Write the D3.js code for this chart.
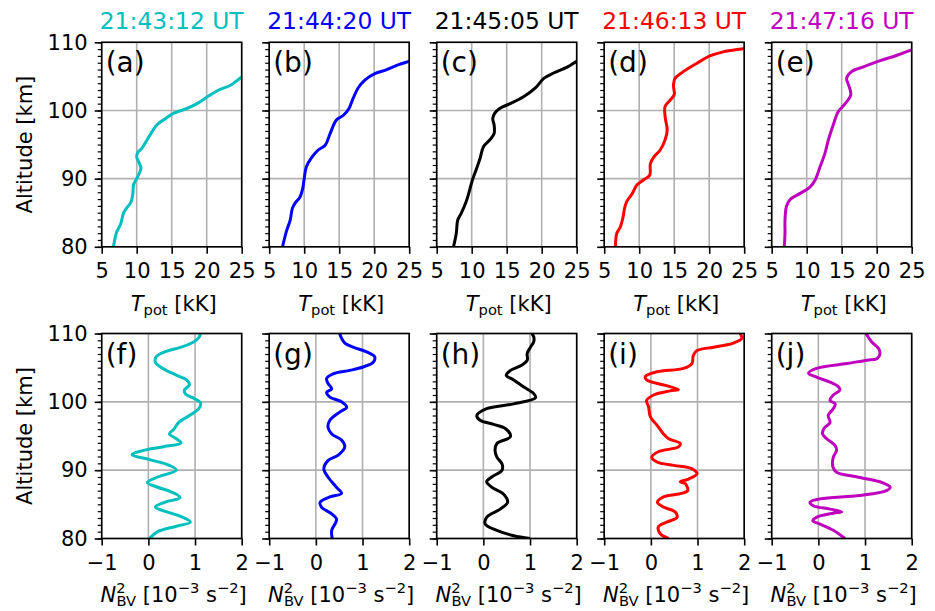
<!DOCTYPE html>
<html><head><meta charset="utf-8">
<script src="https://cdn.jsdelivr.net/npm/d3@7"></script>
<style>body{margin:0;background:#fff}svg{display:block}text{font-family:"DejaVu Sans",sans-serif;fill:#000}</style>
</head><body><svg id="c" width="935" height="611"></svg>
<script>
// ---------- data ----------
const times = ["21:43:12 UT","21:44:20 UT","21:45:05 UT","21:46:13 UT","21:47:16 UT"];
const colors = ["#00bfbf","#0000ff","#000000","#ff0000","#bf00bf"];
const topLetters = ["(a)","(b)","(c)","(d)","(e)"];
const bottomLetters = ["(f)","(g)","(h)","(i)","(j)"];
const altTicks = [80,90,100,110];
const tpotTicks = [5,10,15,20,25];
const n2Ticks = [-1,0,1,2];

// potential temperature profiles [kK]
const altTa = [80,81.2,82.2,83.3,84.9,85.6,86.6,87.8,89.1,90.0,91.5,92.2,93.2,93.9,94.4,95.7,96.9,97.9,98.8,99.6,100.3,101.0,102.0,103.0,103.7,104.9,105.5];
const tpotA = [6.67,6.9,7.15,7.7,8.1,8.5,9.2,9.45,9.55,10.0,10.6,10.4,10.0,10.2,10.7,11.5,12.2,12.9,14.1,15.3,17.2,18.6,20.1,21.7,23.4,25.0,26.0];
const altTb = [80,82.4,83.9,85.6,86.4,87.3,88.6,90.0,91.7,93.0,94.2,94.9,96.6,98.6,99.3,100.3,101.8,103.3,104.5,105.4,106.0,106.7,107.2,107.5];
const tpotB = [6.9,7.5,8.0,8.3,8.7,9.4,9.8,10.0,10.3,11.0,12.0,13.0,13.7,14.6,15.6,16.4,17.0,17.7,18.7,20.1,21.8,23.4,25.0,26.0];
const altTc = [80,82.0,83.9,84.9,86.6,88.3,89.8,91.5,93.0,94.7,95.7,96.6,97.9,98.8,99.6,100.3,101.0,102.0,103.3,104.7,105.5,106.4,107.2,107.6];
const tpotC = [7.4,7.8,8.0,8.5,9.2,9.7,10.1,10.7,11.2,11.7,12.6,13.2,13.2,13.0,13.3,14.0,15.5,17.4,19.1,20.3,21.7,23.7,25.0,26.0];
const altTd = [80,82.0,82.9,84.4,85.6,86.6,87.8,89.1,89.8,90.5,92.2,93.2,94.2,95.7,97.1,99.1,100.6,101.5,102.3,103.7,104.7,105.7,106.9,108.0,108.6,109.1,109.3];
const tpotD = [6.6,6.8,7.3,7.7,7.9,8.2,9.0,9.7,10.6,11.5,11.6,12.1,13.0,13.7,14.0,13.7,13.7,14.4,15.0,14.9,15.1,16.3,18.2,20.1,22.0,25.0,26.0];
const altTe = [80,82.0,83.9,85.9,86.9,87.8,88.8,89.8,91.7,93.7,95.7,97.6,99.8,101.0,102.3,103.7,104.7,105.7,106.4,107.3,108.1,108.9,109.3];
const tpotE = [6.8,6.9,6.9,7.1,7.6,9.0,10.5,11.2,11.9,12.6,13.1,13.7,14.5,15.5,16.3,16.0,15.7,16.4,18.1,20.5,22.9,25.0,26.0];

// squared Brunt-Vaisala frequency profiles [1e-3 s^-2]
const altNf = [80,81.0,81.8,82.4,83.2,84.0,84.6,85.3,86.0,86.8,87.5,88.2,89.0,90.0,90.7,91.5,92.3,92.9,93.4,94.0,94.6,95.3,96.0,97.0,98.0,99.0,99.8,100.5,101.1,101.7,102.5,103.2,103.9,104.8,105.8,106.6,107.3,108.0,108.8,109.4,110.0];
const n2F = [0.02,0.2,0.6,0.9,0.7,0.35,0.15,0.35,0.68,0.5,0.2,-0.02,0.2,0.6,0.45,0.05,-0.35,-0.1,0.3,0.7,0.6,0.45,0.55,0.65,0.88,1.08,1.12,0.98,0.8,0.77,0.88,0.82,0.6,0.33,0.15,0.17,0.35,0.7,0.98,1.08,1.12];
const altNg = [80,81.2,82.4,82.9,83.6,84.6,85.3,86.1,86.6,87.5,89.0,90.2,91.4,92.2,93.4,94.4,95.3,96.3,97.3,98.5,99.2,100.0,100.7,101.4,101.9,102.7,103.4,104.1,104.6,105.1,105.8,106.6,107.3,108.0,108.6,109.3,110.0];
const n2G = [0.35,0.34,0.43,0.44,0.34,0.12,0.09,0.30,0.55,0.44,0.26,0.17,0.26,0.48,0.62,0.55,0.34,0.26,0.30,0.51,0.66,0.55,0.30,0.23,0.34,0.26,0.23,0.37,0.73,1.01,1.23,1.26,1.09,0.80,0.62,0.55,0.51];
const altNh = [80,80.4,81.2,82.1,83.1,84.3,85.3,86.5,87.5,88.3,89.0,90.0,90.9,91.9,92.9,93.9,94.9,96.1,96.7,97.3,98.0,99.0,99.7,100.6,101.2,102.2,103.2,103.9,104.6,105.4,106.1,107.1,108.0,108.8,109.5,110.0];
const n2H = [1.0,0.65,0.29,0.04,0.07,0.36,0.52,0.43,0.18,0.07,0.18,0.40,0.40,0.29,0.25,0.29,0.58,0.47,0.22,-0.07,-0.14,0.07,0.65,1.12,1.08,0.86,0.65,0.49,0.58,0.83,0.94,0.94,1.01,1.08,1.08,1.04];
const altNi = [80,80.7,81.7,82.4,83.1,83.9,84.6,85.3,86.1,86.6,87.0,88.0,88.3,88.7,89.5,90.2,90.7,91.2,91.9,92.7,93.4,93.9,94.6,95.3,96.6,97.8,99.3,100.2,101.0,101.6,101.8,102.4,103.2,103.7,104.4,104.9,105.6,106.8,107.5,108.0,108.6,109.3,110.0];
const n2I = [0.38,0.20,0.16,0.34,0.56,0.52,0.27,0.14,0.27,0.66,0.79,0.74,0.63,0.81,0.99,0.88,0.49,0.13,0.02,0.16,0.59,0.63,0.38,0.27,0.13,-0.01,-0.05,-0.09,0.06,0.41,0.59,0.31,-0.09,-0.12,0.13,0.70,0.88,0.91,0.99,1.34,1.77,1.95,1.91];
const altNj = [80,81.2,82.1,82.6,83.1,83.7,83.9,84.3,84.8,85.3,85.8,86.3,87.0,87.5,88.3,89.1,89.7,90.5,91.9,92.9,93.6,94.6,95.3,96.1,97.0,98.0,99.0,99.7,100.2,101.0,101.7,102.2,102.9,103.6,104.2,104.9,105.6,106.1,106.3,107.1,107.8,108.8,110.0];
const n2J = [0.57,0.32,0.04,-0.12,-0.04,0.32,0.50,0.25,-0.11,-0.18,0.04,0.89,1.46,1.54,1.32,0.75,0.39,0.31,0.32,0.39,0.36,0.18,0.09,0.12,0.25,0.21,0.32,0.36,0.25,0.32,0.46,0.43,0.25,-0.04,-0.21,-0.04,0.61,1.04,1.25,1.32,1.29,1.14,1.02];

const tpotAlts = [altTa,altTb,altTc,altTd,altTe];
const tpotVals = [tpotA,tpotB,tpotC,tpotD,tpotE];
const n2Alts = [altNf,altNg,altNh,altNi,altNj];
const n2Vals = [n2F,n2G,n2H,n2I,n2J];

// ---------- drawing ----------
const svg = d3.select("#c");
const W = 140, L0 = 101.7, DX = 167.5;
const rows = [
  {top:42.3, bottom:246.8, domain:[5,25], ticks:tpotTicks, alts:tpotAlts, vals:tpotVals, letters:topLetters, tickY:278.3, labelY:311},
  {top:333.5, bottom:538.5, domain:[-1,2], ticks:n2Ticks, alts:n2Alts, vals:n2Vals, letters:bottomLetters, tickY:570, labelY:602}
];
const fmt = d3.format("d");

rows.forEach((row, r) => {
  for (let i = 0; i < 5; i++) {
    const left = L0 + i*DX;
    const x = d3.scaleLinear().domain(row.domain).range([left, left+W]);
    const y = d3.scaleLinear().domain([80,110]).range([row.bottom, row.top]);
    const g = svg.append("g");
    const cid = "clip"+r+"_"+i;
    g.append("clipPath").attr("id", cid).append("rect")
      .attr("x", left).attr("y", row.top).attr("width", W).attr("height", row.bottom-row.top);
    // grid
    g.selectAll(".gx").data(row.ticks).enter().append("line")
      .attr("x1", d=>x(d)).attr("x2", d=>x(d)).attr("y1", row.top).attr("y2", row.bottom)
      .attr("stroke", "#b0b0b0").attr("stroke-width", 1.6);
    g.selectAll(".gy").data(altTicks).enter().append("line")
      .attr("x1", left).attr("x2", left+W).attr("y1", d=>y(d)).attr("y2", d=>y(d))
      .attr("stroke", "#b0b0b0").attr("stroke-width", 1.6);
    // data
    const pts = d3.zip(row.alts[i], row.vals[i]);
    const line = d3.line().x(d=>x(d[1])).y(d=>y(d[0])).curve(d3.curveCatmullRom.alpha(0.5));
    g.append("path").attr("d", line(pts)).attr("fill","none").attr("stroke", colors[i])
      .attr("stroke-width", 3).attr("stroke-linejoin","round").attr("stroke-linecap","butt")
      .attr("clip-path", "url(#"+cid+")");
    // spines
    g.append("rect").attr("x", left).attr("y", row.top).attr("width", W).attr("height", row.bottom-row.top)
      .attr("fill","none").attr("stroke","#000").attr("stroke-width",1.6);
    // x axis
    const xa = g.append("g").attr("transform", `translate(0,${row.bottom})`)
      .call(d3.axisBottom(x).tickValues(row.ticks).tickSize(7).tickPadding(5).tickFormat(fmt));
    xa.select(".domain").remove();
    xa.selectAll(".tick line").attr("stroke","#000").attr("stroke-width",1.6);
    xa.selectAll(".tick text").attr("font-size", 21).attr("font-family","DejaVu Sans").attr("fill","#000")
      .attr("dy", null).attr("y", row.tickY - row.bottom);
    // y axis major + minor
    const ya = g.append("g").attr("transform", `translate(${left},0)`)
      .call(d3.axisLeft(y).tickValues(altTicks).tickSize(7).tickPadding(7).tickFormat(i===0?fmt:""));
    ya.select(".domain").remove();
    ya.selectAll(".tick line").attr("stroke","#000").attr("stroke-width",1.6);
    ya.selectAll(".tick text").attr("font-size", 21).attr("font-family","DejaVu Sans").attr("fill","#000");
    const ym = g.append("g").attr("transform", `translate(${left},0)`)
      .call(d3.axisLeft(y).ticks(30).tickSize(4).tickFormat(""));
    ym.select(".domain").remove();
    ym.selectAll(".tick line").attr("stroke","#000").attr("stroke-width",1.2);
    // panel letter
    g.append("text").attr("x", left+4).attr("y", row.top+30).attr("font-size", 28).text(row.letters[i]);
    // x label
    const lab = g.append("text").attr("x", left+W/2+2).attr("y", row.labelY)
      .attr("text-anchor","middle").attr("font-size", 21);
    if (r === 0) {
      lab.append("tspan").attr("font-style","italic").text("T");
      lab.append("tspan").attr("font-size", 14.7).attr("dy", 4).text("pot");
      lab.append("tspan").attr("dy", -4).text(" [kK]");
    } else {
      lab.append("tspan").attr("font-style","italic").text("N");
      lab.append("tspan").attr("font-size", 14.7).attr("dy", -9).text("2");
      lab.append("tspan").attr("font-size", 14.7).attr("dx", -9.3).attr("dy", 13).text("BV");
      lab.append("tspan").attr("dy", -4).text(" [10");
      lab.append("tspan").attr("font-size", 14.7).attr("dy", -9).text("\u22123");
      lab.append("tspan").attr("dy", 9).text(" s");
      lab.append("tspan").attr("font-size", 14.7).attr("dy", -9).text("\u22122");
      lab.append("tspan").attr("dy", 9).text("]");
    }
    if (i === 0) {
      const cy = (row.top + row.bottom)/2;
      svg.append("text").attr("transform", `translate(32,${cy}) rotate(-90)`)
        .attr("text-anchor","middle").attr("font-size", 21).text("Altitude [km]");
    }
    if (r === 0) {
      svg.append("text").attr("x", left+W/2).attr("y", 29).attr("text-anchor","middle")
        .attr("font-size", 23.4).attr("fill", colors[i]).style("fill", colors[i]).text(times[i]);
    }
  }
});
</script></body></html>
